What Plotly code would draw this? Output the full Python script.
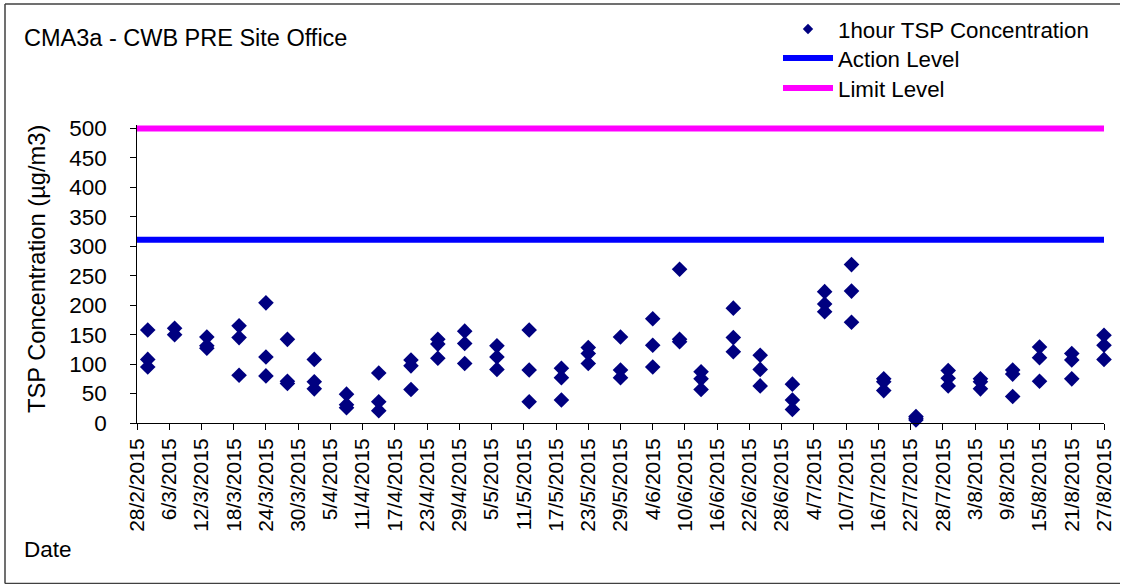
import pandas as pd
import plotly.graph_objects as go

# ---- data ----
sample_dates = [
    "2015-03-02", "2015-03-07", "2015-03-13", "2015-03-19", "2015-03-24", "2015-03-28",
    "2015-04-02", "2015-04-08", "2015-04-14", "2015-04-20", "2015-04-25", "2015-04-30",
    "2015-05-06", "2015-05-12", "2015-05-18", "2015-05-23", "2015-05-29",
    "2015-06-04", "2015-06-09", "2015-06-13", "2015-06-19", "2015-06-24", "2015-06-30",
    "2015-07-06", "2015-07-11", "2015-07-17", "2015-07-23", "2015-07-29",
    "2015-08-04", "2015-08-10", "2015-08-15", "2015-08-21", "2015-08-27",
]
tsp_readings = [
    [158, 108, 95], [161, 150], [146, 131, 127], [165, 145, 81], [204, 112, 80], [142, 71, 67],
    [108, 70, 58], [49, 31, 26], [85, 36, 21], [107, 97, 57], [142, 134, 110], [156, 135, 101],
    [131, 112, 91], [158, 90, 36], [93, 77, 39], [128, 118, 101], [146, 90, 77],
    [177, 132, 95], [261, 142, 138], [87, 75, 57], [195, 145, 121], [115, 91, 63], [66, 39, 23],
    [223, 202, 189], [269, 224, 171], [75, 70, 55], [11, 8, 5], [89, 76, 63],
    [75, 70, 58], [90, 83, 45], [129, 111, 71], [118, 107, 75], [149, 132, 108],
]
action_level = 311
limit_level = 500
x_start = "2015-02-28"
x_end = "2015-08-27"
y_ticks = [0, 50, 100, 150, 200, 250, 300, 350, 400, 450, 500]
tick_dates = pd.date_range(x_start, x_end, freq="6D")
tick_labels = [f"{d.day}/{d.month}/{d.year}" for d in tick_dates]

# expand readings
xs, ys = [], []
for d, vals in zip(sample_dates, tsp_readings):
    for v in vals:
        xs.append(d)
        ys.append(v)

FONT = "Liberation Sans, Arial, sans-serif"
FS = 22.5

W, H = 1120, 584
PLOT_L, PLOT_R, PLOT_T, PLOT_B = 137, 1104, 125, 423
L, R, T, B = PLOT_L, W - PLOT_R, PLOT_T, H - PLOT_B
pw, ph = PLOT_R - PLOT_L, PLOT_B - PLOT_T


def px_x(p):
    return (p - PLOT_L) / pw


def px_y(p):
    return (PLOT_B - p) / ph


fig = go.Figure()
fig.add_trace(go.Scatter(
    x=xs, y=ys, mode="markers", name="1hour TSP Concentration",
    marker=dict(symbol="diamond", size=12, color="#000080"),
    cliponaxis=False, showlegend=False,
))
fig.add_trace(go.Scatter(
    x=[None], y=[None], mode="markers", name="1hour TSP Concentration",
    marker=dict(symbol="diamond", size=8, color="#000080"),
    legend="legend",
))
fig.add_trace(go.Scatter(
    x=[x_start, x_end], y=[action_level, action_level], mode="lines",
    name="Action Level", line=dict(color="#0000FF", width=6), legend="legend2",
))
fig.add_trace(go.Scatter(
    x=[x_start, x_end], y=[limit_level, limit_level], mode="lines",
    name="Limit Level", line=dict(color="#FF00FF", width=6), legend="legend3",
))


def leg(top):
    return dict(
        xref="container", yref="container",
        x=778 / W, y=1 - top / H, xanchor="left", yanchor="top",
        bgcolor="rgba(0,0,0,0)", itemwidth=50,
        font=dict(family=FONT, size=22.3, color="black"),
    )


border = dict(color="#404040", width=1.5)

fig.update_layout(
    width=W, height=H,
    margin=dict(l=L, r=R, t=T, b=B, autoexpand=False),
    paper_bgcolor="white", plot_bgcolor="white",
    font=dict(family=FONT, size=FS, color="black"),
    showlegend=True,
    legend=leg(8),
    legend2=leg(37),
    legend3=leg(67),
    xaxis=dict(
        type="date", range=[x_start, x_end],
        tickmode="array", tickvals=tick_dates, ticktext=tick_labels,
        tickangle=-90, ticks="outside", ticklen=6, tickcolor="black",
        showline=True, linecolor="black", linewidth=1,
        showgrid=False, zeroline=False,
        tickfont=dict(family=FONT, size=21, color="black"),
    ),
    yaxis=dict(
        range=[0, 506], tickmode="array", tickvals=y_ticks,
        ticktext=[f"{v}\u00a0\u00a0\u00a0" for v in y_ticks],
        ticks="outside", ticklen=6, tickcolor="black",
        showline=True, linecolor="black", linewidth=1,
        showgrid=False, zeroline=False,
        tickfont=dict(family=FONT, size=FS, color="black"),
    ),
    annotations=[
        dict(text="CMA3a - CWB PRE Site Office", xref="paper", yref="paper",
             x=px_x(22), y=px_y(38), xanchor="left", yanchor="middle",
             showarrow=False, font=dict(family=FONT, size=23.5, color="black")),
        dict(text="TSP Concentration (µg/m3)", xref="paper", yref="paper",
             x=px_x(37), y=px_y(269), xanchor="center", yanchor="middle",
             textangle=-90, showarrow=False,
             font=dict(family=FONT, size=23.7, color="black")),
        dict(text="Date", xref="paper", yref="paper",
             x=px_x(22), y=px_y(549), xanchor="left", yanchor="middle",
             showarrow=False, font=dict(family=FONT, size=FS, color="black")),
    ],
    shapes=[
        dict(type="line", xref="paper", yref="paper",
             x0=px_x(5), x1=px_x(5), y0=px_y(583.5), y1=px_y(4), line=border, layer="below"),
        dict(type="line", xref="paper", yref="paper",
             x0=px_x(5), x1=px_x(W), y0=px_y(4), y1=px_y(4), line=border, layer="below"),
        dict(type="line", xref="paper", yref="paper",
             x0=px_x(5), x1=px_x(W), y0=px_y(583.5), y1=px_y(583.5), line=border, layer="below"),
    ],
)

fig.write_html(
    "out.html",
    config={"displayModeBar": False},
    post_script="document.body.style.margin='0px';document.body.style.overflow='hidden';",
)
